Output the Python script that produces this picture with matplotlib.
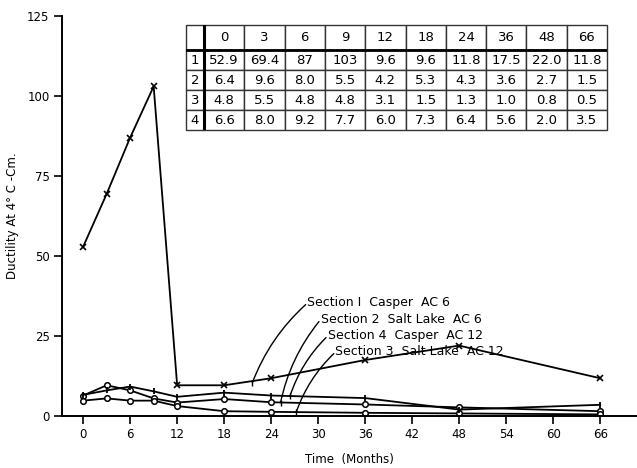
import matplotlib.pyplot as plt
import numpy as np

months = [0, 3, 6, 9, 12, 18, 24, 36, 48, 66]
sec1 = [52.9, 69.4, 87, 103, 9.6, 9.6, 11.8, 17.5, 22.0, 11.8]
sec2 = [6.4, 9.6, 8.0, 5.5, 4.2, 5.3, 4.3, 3.6, 2.7, 1.5]
sec3 = [4.8, 5.5, 4.8, 4.8, 3.1, 1.5, 1.3, 1.0, 0.8, 0.5]
sec4 = [6.6, 8.0, 9.2, 7.7, 6.0, 7.3, 6.4, 5.6, 2.0, 3.5]

col_labels = ["0", "3", "6", "9", "12", "18", "24", "36", "48", "66"]
row_labels = ["1", "2", "3", "4"]
cell_text = [
    ["52.9", "69.4", "87", "103", "9.6", "9.6", "11.8", "17.5", "22.0", "11.8"],
    ["6.4", "9.6", "8.0", "5.5", "4.2", "5.3", "4.3", "3.6", "2.7", "1.5"],
    ["4.8", "5.5", "4.8", "4.8", "3.1", "1.5", "1.3", "1.0", "0.8", "0.5"],
    ["6.6", "8.0", "9.2", "7.7", "6.0", "7.3", "6.4", "5.6", "2.0", "3.5"],
]

labels = ["Section I  Casper  AC 6", "Section 2  Salt Lake  AC 6",
          "Section 4  Casper  AC 12", "Section 3  Salt Lake  AC 12"]
label_pos = [(28.6, 35.6), (30.3, 30.3), (31.2, 25.3), (32.2, 20.3)]
label_tip = [(21.6, 10.4), (25.2, 4.2), (26.4, 6.2), (27.2, 1.2)]

fig = plt.figure(figsize=(6.37, 4.68), dpi=100)
ax = fig.add_axes([62 / 637, 52 / 468, 1 - 62 / 637, 400 / 468])

lw = 1.3
ax.plot(months, sec1, color="black", lw=lw, marker="x", ms=5, mew=1.2)
ax.plot(months, sec2, color="black", lw=lw, marker="o", ms=4, mfc="white", mew=1.1)
ax.plot(months, sec3, color="black", lw=lw, marker="o", ms=4, mfc="white", mew=1.1)
ax.plot(months, sec4, color="black", lw=lw, marker="|", ms=5, mew=1.3)

ax.set_xlim(-2.7, 70.7)
ax.set_ylim(0, 125)
ax.set_xticks(np.arange(0, 67, 6))
ax.set_yticks([0, 25, 50, 75, 100, 125])
for s in ["top", "right"]:
    ax.spines[s].set_visible(False)
ax.spines["left"].set_linewidth(1.4)
ax.spines["bottom"].set_linewidth(1.4)
ax.tick_params(direction="out", length=6, width=1.2, labelsize=8.5, pad=3)
ax.set_xlabel("Time  (Months)", fontsize=8.5, labelpad=8)
ax.set_ylabel("Ductility At 4° C -Cm.", fontsize=8.5, labelpad=6)

# leader lines start at the left end of each label
for txt, pos, tip in zip(labels, label_pos, label_tip):
    ax.text(pos[0], pos[1], txt, fontsize=9, ha="left", va="center")
    ax.annotate("", xy=tip, xytext=(pos[0] - 0.2, pos[1] - 0.8),
                arrowprops=dict(arrowstyle="-", color="black", lw=1.0,
                                shrinkA=0, shrinkB=0,
                                connectionstyle="arc3,rad=0.12"))
    ax.plot(tip[0], tip[1], marker="|", ms=5, mew=1.0, color="black")

tax = fig.add_axes([186 / 637, 338 / 468, 421 / 637, 105 / 468])
tax.axis("off")
tab = tax.table(cellText=[[r] + row for r, row in zip(row_labels, cell_text)],
                colLabels=[""] + col_labels, cellLoc="center",
                colWidths=[18] + [40.3] * 10, bbox=[0, 0, 1, 1])
tab.auto_set_font_size(False)
tab.set_fontsize(9.5)
for (r, c), cell in tab.get_celld().items():
    cell.set_linewidth(1.0)
    cell.set_edgecolor("#333333")
    cell.set_height(25 if r == 0 else 20)
tax.axvline(18 / 421, color="black", lw=2.2)
tax.axhline(80 / 105, color="black", lw=2.0)

fig.savefig("out.png", dpi=100)
